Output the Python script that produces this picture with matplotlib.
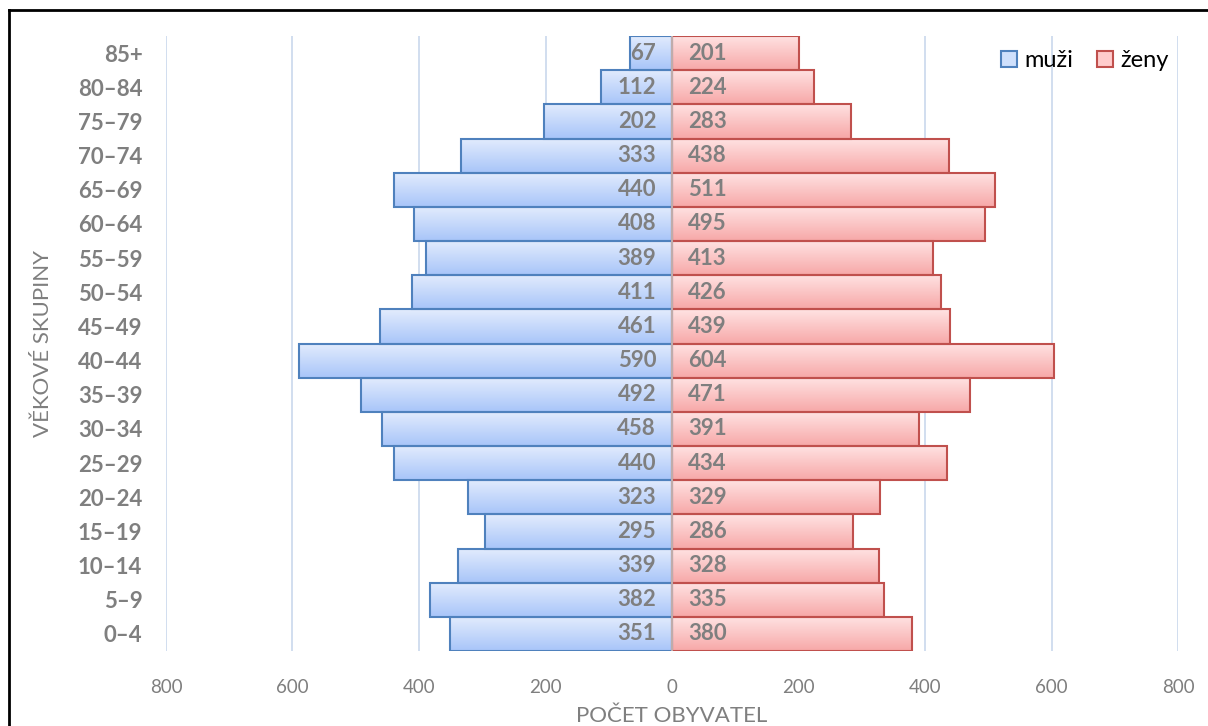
import numpy as np
import matplotlib
matplotlib.use("Agg")
import matplotlib.pyplot as plt
from matplotlib.lines import Line2D
from matplotlib.patches import Patch

# data (bottom to top)
skupiny = ["0–4", "5–9", "10–14", "15–19", "20–24", "25–29", "30–34", "35–39",
           "40–44", "45–49", "50–54", "55–59", "60–64", "65–69", "70–74",
           "75–79", "80–84", "85+"]
muzi = [351, 382, 339, 295, 323, 440, 458, 492, 590, 461, 411, 389, 408, 440,
        333, 202, 112, 67]
zeny = [380, 335, 328, 286, 329, 434, 391, 471, 604, 439, 426, 413, 495, 511,
        438, 283, 224, 201]
x_ticks = [-800, -600, -400, -200, 0, 200, 400, 600, 800]

plt.rcParams['font.family'] = ['Lato', 'DejaVu Sans']
gray = '#7f7f7f'

fig = plt.figure(figsize=(12.08, 7.26), dpi=100)
ax = fig.add_axes([166 / 1208, 1 - 651 / 726, (1178 - 166) / 1208, (651 - 36) / 726])

y = np.arange(len(skupiny))


# gradient bars
def grad_bars(vals, sign, top_col, bot_col, edge):
    bars = ax.barh(y, [sign * v for v in vals], height=1.0, color='none',
                   edgecolor=edge, linewidth=1.5, zorder=3)
    c1 = np.array(matplotlib.colors.to_rgb(top_col))
    c2 = np.array(matplotlib.colors.to_rgb(bot_col))
    t = np.linspace(0, 1, 64)[:, None]
    img = (c1 * (1 - t) + c2 * t)[:, None, :]
    for b in bars:
        x0, y0 = b.get_x(), b.get_y()
        w, h = b.get_width(), b.get_height()
        im = ax.imshow(img, extent=[x0, x0 + w, y0, y0 + h], aspect='auto',
                       origin='upper', zorder=2)
        im.set_clip_path(b)
    return bars


grad_bars(muzi, -1, '#e3ecfd', '#a8c5f9', '#4f81bd')
grad_bars(zeny, 1, '#ffe3e3', '#f7a8a8', '#c0504d')

# data labels
for i in range(len(skupiny)):
    ax.text(-25, y[i], str(muzi[i]), ha='right', va='center', fontsize=16,
            fontweight='bold', color=gray, zorder=4)
    ax.text(25, y[i], str(zeny[i]), ha='left', va='center', fontsize=16,
            fontweight='bold', color=gray, zorder=4)

ax.axvline(0, color='#bfbfbf', linewidth=1.2, zorder=4)

ax.set_xlim(-800, 800)
ax.set_ylim(-0.5, len(skupiny) - 0.5)
ax.set_xticks(x_ticks)
ax.set_xticklabels([str(abs(v)) for v in x_ticks], fontsize=13.5, color=gray)
ax.set_yticks(y)
ax.set_yticklabels(skupiny, fontsize=16, fontweight='bold', color=gray)
ax.tick_params(axis='both', length=0)
ax.tick_params(axis='y', pad=17)
ax.tick_params(axis='x', pad=20)
ax.grid(axis='x', color='#c9d8ec', linewidth=1.2, zorder=0)
ax.set_axisbelow(True)
for s in ax.spines.values():
    s.set_visible(False)

ax.set_xlabel('POČET OBYVATEL', fontsize=16, color=gray, labelpad=7)
ax.set_ylabel('VĚKOVÉ SKUPINY', fontsize=16, color=gray, labelpad=18)

handles = [Patch(facecolor='#cfe0fc', edgecolor='#4f81bd', linewidth=1.5, label='muži'),
           Patch(facecolor='#ffcccc', edgecolor='#c0504d', linewidth=1.5, label='ženy')]
ax.legend(handles=handles, loc='upper right', bbox_to_anchor=(1.005, 1.0),
          ncol=2, frameon=False, fontsize=17, handlelength=0.7, handleheight=0.7,
          handletextpad=0.3, columnspacing=1.0, borderaxespad=0.2)

# outer frame (left and top edges)
fig.add_artist(Line2D([9 / 1208, 9 / 1208], [0, 1 - 10 / 726], color='black',
                      linewidth=2, transform=fig.transFigure))
fig.add_artist(Line2D([9 / 1208, 1], [1 - 10 / 726, 1 - 10 / 726], color='black',
                      linewidth=2, transform=fig.transFigure))

fig.savefig('out.png', dpi=100)
